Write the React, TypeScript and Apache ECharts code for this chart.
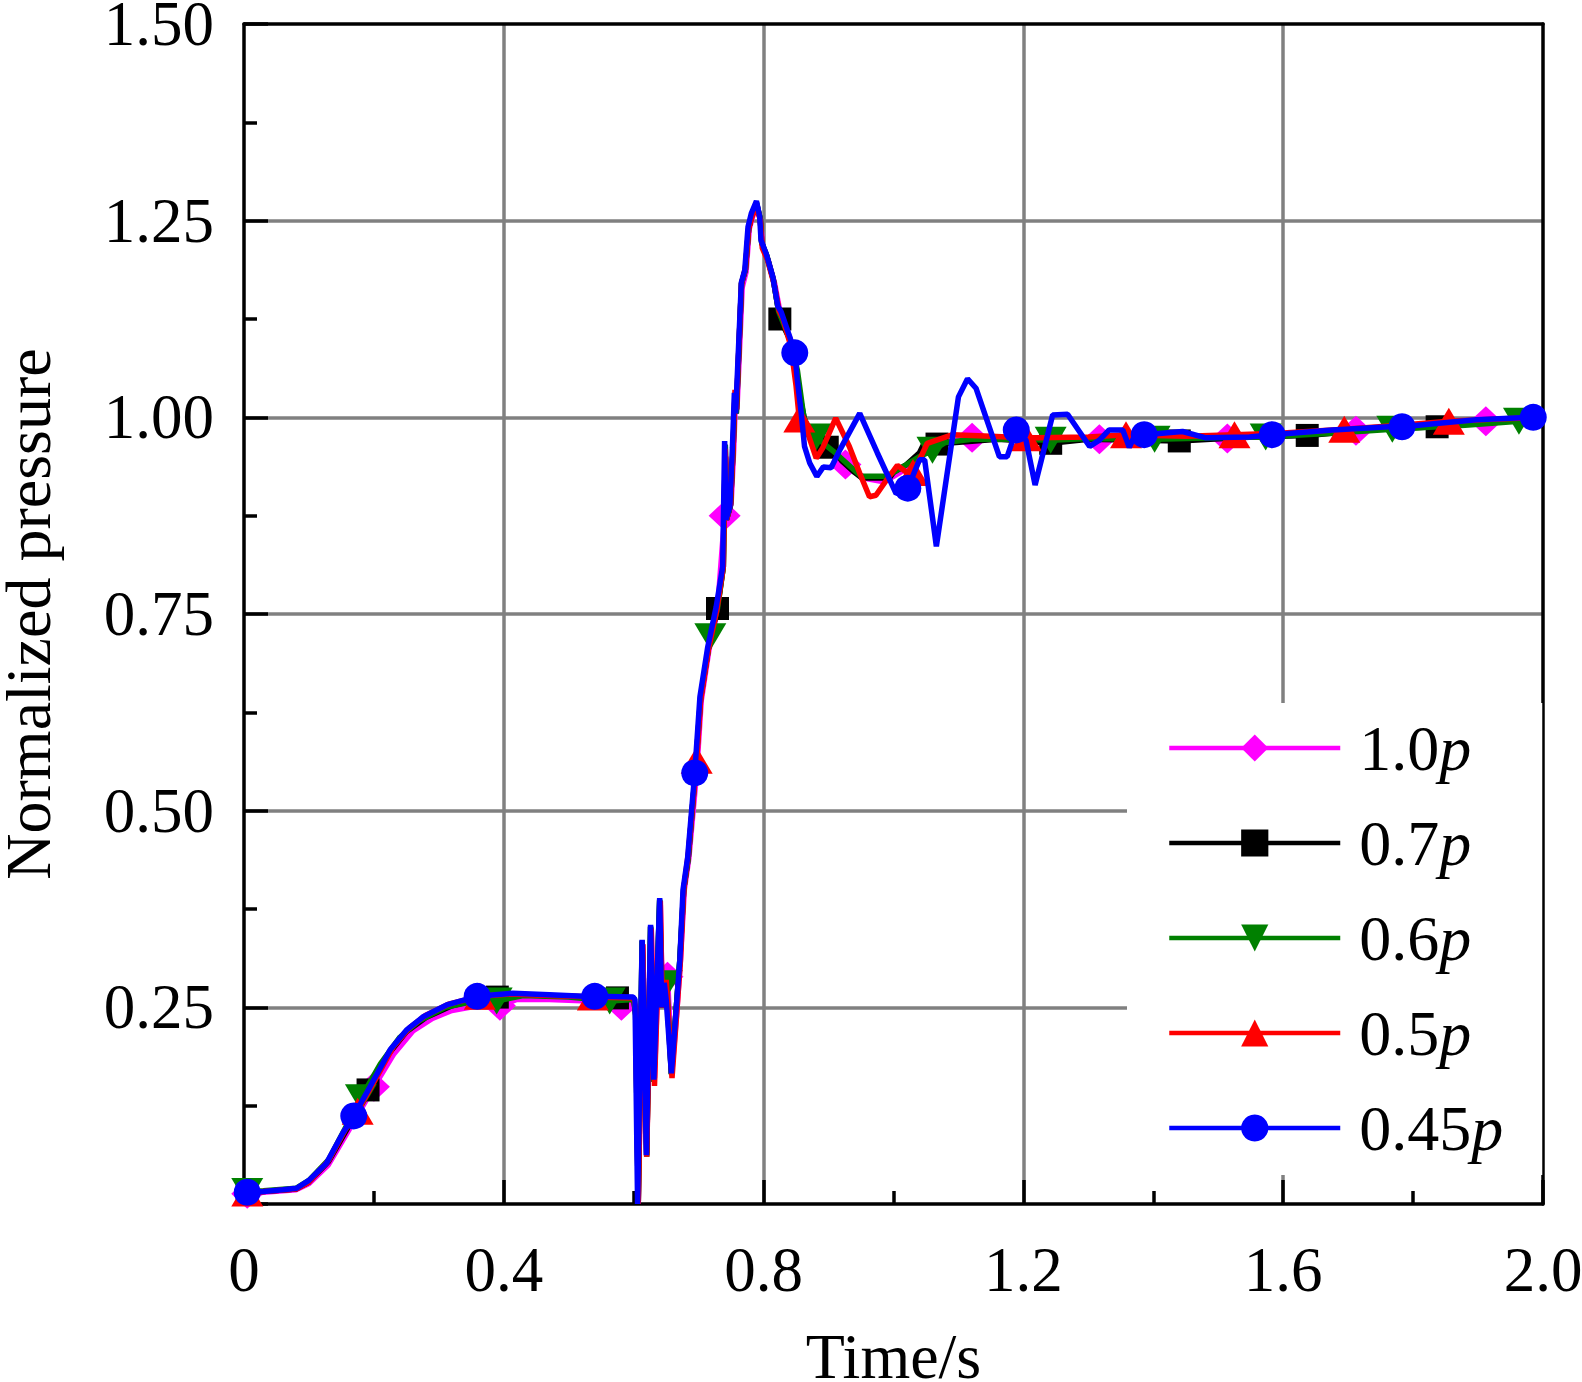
import React, { useEffect, useRef } from "react";
import * as echarts from "echarts";

const xTickLabels = ["0", "0.4", "0.8", "1.2", "1.6", "2.0"];
const yTickLabels = ["", "0.25", "0.50", "0.75", "1.00", "1.25", "1.50"];
const seriesNames = ["1.0p", "0.7p", "0.6p", "0.5p", "0.45p"];
const seriesColors = ["#FF00FF", "#000000", "#008000", "#FF0000", "#0000FF"];

// 1.0p (magenta, diamonds)
const line10: number[][] = [
  [0, 0.013], [0.03, 0.015], [0.08, 0.018], [0.1, 0.026], [0.13, 0.05], [0.16, 0.092], [0.2, 0.149], [0.23, 0.19],
  [0.26, 0.22], [0.29, 0.236], [0.32, 0.246], [0.36, 0.252], [0.394, 0.252], [0.42, 0.26], [0.47, 0.26], [0.53, 0.258],
  [0.581, 0.252], [0.6, 0.255], [0.604, 0.24], [0.607, 0.0], [0.614, 0.33], [0.62, 0.065], [0.627, 0.35], [0.632, 0.16],
  [0.641, 0.38], [0.644, 0.26], [0.652, 0.289], [0.659, 0.17], [0.666, 0.24], [0.672, 0.31], [0.678, 0.4], [0.685, 0.44],
  [0.697, 0.55], [0.704, 0.64], [0.716, 0.705], [0.729, 0.755], [0.74, 0.875], [0.742, 0.95], [0.745, 0.88], [0.75, 0.89],
  [0.754, 0.96], [0.757, 1.03], [0.759, 1.01], [0.767, 1.165], [0.773, 1.185], [0.778, 1.24], [0.783, 1.255], [0.79, 1.27],
  [0.795, 1.25], [0.799, 1.215], [0.807, 1.2], [0.817, 1.17], [0.825, 1.135], [0.832, 1.12], [0.845, 1.09], [0.86, 1.0],
  [0.875, 0.97], [0.89, 0.962], [0.905, 0.955], [0.926, 0.94], [0.945, 0.928], [0.96, 0.922], [0.985, 0.918], [1.0, 0.925],
  [1.03, 0.94], [1.05, 0.96], [1.08, 0.968], [1.121, 0.974], [1.2, 0.974], [1.317, 0.972], [1.4, 0.973], [1.514, 0.973],
  [1.6, 0.977], [1.712, 0.983], [1.8, 0.988], [1.912, 0.995], [2.0, 0.998],
];
const marks10: number[][] = [
  [0.005, 0.013], [0.2, 0.149], [0.394, 0.252], [0.581, 0.252], [0.652, 0.289], [0.74, 0.875], [0.926, 0.94],
  [1.121, 0.974], [1.317, 0.972], [1.514, 0.973], [1.712, 0.983], [1.912, 0.995],
];

// 0.7p (black, squares)
const line07: number[][] = [
  [0, 0.015], [0.03, 0.016], [0.08, 0.019], [0.1, 0.028], [0.13, 0.054], [0.16, 0.097], [0.191, 0.145], [0.22, 0.188],
  [0.25, 0.219], [0.28, 0.237], [0.32, 0.252], [0.36, 0.26], [0.39, 0.263], [0.43, 0.266], [0.5, 0.264], [0.575, 0.262],
  [0.6, 0.262], [0.603, 0.24], [0.607, 0.0], [0.613, 0.335], [0.62, 0.062], [0.626, 0.353], [0.631, 0.156], [0.64, 0.386],
  [0.643, 0.25], [0.65, 0.28], [0.658, 0.165], [0.665, 0.243], [0.671, 0.31], [0.677, 0.4], [0.684, 0.44], [0.695, 0.55],
  [0.703, 0.643], [0.715, 0.706], [0.729, 0.757], [0.738, 0.81], [0.741, 0.965], [0.743, 0.87], [0.749, 0.888], [0.753, 0.96],
  [0.756, 1.03], [0.758, 1.005], [0.766, 1.17], [0.772, 1.188], [0.777, 1.24], [0.782, 1.257], [0.789, 1.272], [0.795, 1.252],
  [0.797, 1.222], [0.805, 1.205], [0.815, 1.175], [0.825, 1.125], [0.84, 1.1], [0.855, 1.03], [0.865, 0.99], [0.877, 0.967],
  [0.898, 0.962], [0.906, 0.962], [0.92, 0.945], [0.94, 0.93], [0.951, 0.923], [0.994, 0.923], [1.0, 0.93], [1.02, 0.94],
  [1.04, 0.955], [1.05, 0.972], [1.16, 0.972], [1.2, 0.97], [1.242, 0.967], [1.3, 0.972], [1.44, 0.97], [1.55, 0.975],
  [1.637, 0.977], [1.75, 0.985], [1.837, 0.988], [1.92, 0.995], [2.0, 0.998],
];
const marks07: number[][] = [
  [0.005, 0.015], [0.191, 0.145], [0.39, 0.263], [0.575, 0.262], [0.729, 0.757], [0.825, 1.125], [0.898, 0.962],
  [1.067, 0.966], [1.242, 0.967], [1.44, 0.97], [1.637, 0.977], [1.837, 0.988],
];

// 0.6p (green, down triangles)
const line06: number[][] = [
  [0, 0.016], [0.03, 0.017], [0.08, 0.02], [0.1, 0.03], [0.13, 0.056], [0.155, 0.095], [0.18, 0.135], [0.21, 0.178],
  [0.24, 0.212], [0.27, 0.233], [0.31, 0.25], [0.35, 0.257], [0.389, 0.258], [0.43, 0.265], [0.5, 0.263], [0.563, 0.258],
  [0.6, 0.26], [0.603, 0.24], [0.607, 0.0], [0.613, 0.334], [0.62, 0.06], [0.626, 0.352], [0.631, 0.155], [0.64, 0.387],
  [0.644, 0.26], [0.651, 0.28], [0.658, 0.165], [0.665, 0.243], [0.671, 0.31], [0.677, 0.4], [0.684, 0.44], [0.695, 0.55],
  [0.703, 0.643], [0.718, 0.721], [0.729, 0.757], [0.738, 0.81], [0.741, 0.965], [0.743, 0.87], [0.749, 0.888], [0.753, 0.96],
  [0.756, 1.03], [0.758, 1.005], [0.766, 1.17], [0.772, 1.188], [0.777, 1.24], [0.782, 1.257], [0.789, 1.273], [0.795, 1.252],
  [0.797, 1.222], [0.805, 1.205], [0.815, 1.175], [0.823, 1.135], [0.84, 1.1], [0.852, 1.06], [0.862, 1.0], [0.872, 0.98],
  [0.881, 0.975], [0.895, 0.965], [0.91, 0.955], [0.93, 0.94], [0.95, 0.925], [0.99, 0.925], [1.0, 0.93], [1.02, 0.94],
  [1.04, 0.95], [1.06, 0.958], [1.08, 0.968], [1.12, 0.972], [1.2, 0.972], [1.242, 0.971], [1.3, 0.973], [1.402, 0.972],
  [1.5, 0.974], [1.573, 0.975], [1.68, 0.98], [1.768, 0.985], [1.88, 0.99], [1.963, 0.995], [2.0, 0.998],
];
const marks06: number[][] = [
  [0.005, 0.016], [0.18, 0.135], [0.389, 0.258], [0.563, 0.258], [0.651, 0.28], [0.718, 0.721], [0.881, 0.975],
  [1.06, 0.958], [1.242, 0.971], [1.402, 0.972], [1.573, 0.975], [1.768, 0.985], [1.963, 0.995],
];

// 0.5p (red, triangles)
const line05: number[][] = [
  [0, 0.014], [0.03, 0.016], [0.08, 0.019], [0.1, 0.028], [0.13, 0.055], [0.155, 0.093], [0.175, 0.118], [0.2, 0.155],
  [0.23, 0.2], [0.255, 0.224], [0.28, 0.24], [0.315, 0.254], [0.363, 0.264], [0.41, 0.267], [0.47, 0.265], [0.537, 0.263],
  [0.6, 0.262], [0.603, 0.25], [0.607, 0.0], [0.614, 0.33], [0.62, 0.06], [0.627, 0.35], [0.632, 0.15], [0.641, 0.385],
  [0.644, 0.25], [0.65, 0.285], [0.659, 0.16], [0.666, 0.24], [0.672, 0.31], [0.677, 0.4], [0.684, 0.445], [0.697, 0.564],
  [0.703, 0.64], [0.715, 0.705], [0.728, 0.755], [0.738, 0.81], [0.741, 0.96], [0.743, 0.87], [0.749, 0.89], [0.753, 0.96],
  [0.756, 1.035], [0.758, 1.01], [0.766, 1.17], [0.772, 1.19], [0.777, 1.24], [0.782, 1.255], [0.789, 1.27], [0.795, 1.25],
  [0.798, 1.215], [0.806, 1.2], [0.816, 1.17], [0.824, 1.135], [0.83, 1.125], [0.842, 1.09], [0.85, 1.04], [0.855, 0.998],
  [0.863, 0.992], [0.881, 0.948], [0.891, 0.961], [0.911, 0.999], [0.932, 0.963], [0.948, 0.929], [0.963, 0.899],
  [0.973, 0.901], [0.989, 0.92], [1.006, 0.939], [1.022, 0.929], [1.03, 0.93], [1.04, 0.946], [1.052, 0.967],
  [1.091, 0.978], [1.15, 0.976], [1.204, 0.974], [1.22, 0.974], [1.3, 0.975], [1.358, 0.978], [1.45, 0.976],
  [1.525, 0.978], [1.6, 0.98], [1.694, 0.985], [1.78, 0.99], [1.855, 0.995], [1.93, 0.998], [2.0, 1.0],
];
const marks05: number[][] = [
  [0.005, 0.014], [0.175, 0.118], [0.363, 0.264], [0.537, 0.263], [0.697, 0.564], [0.855, 0.998], [1.03, 0.93],
  [1.204, 0.974], [1.358, 0.978], [1.525, 0.978], [1.694, 0.985], [1.855, 0.995],
];

// 0.45p (blue, circles)
const line045: number[][] = [
  [0, 0.015], [0.01, 0.015], [0.03, 0.016], [0.06, 0.018], [0.081, 0.02], [0.1, 0.03], [0.127, 0.052], [0.152, 0.09],
  [0.169, 0.112], [0.194, 0.149], [0.225, 0.196], [0.25, 0.221], [0.276, 0.238], [0.312, 0.253], [0.359, 0.264],
  [0.414, 0.268], [0.47, 0.266], [0.522, 0.264], [0.54, 0.264], [0.599, 0.263], [0.602, 0.26], [0.606, 0.0],
  [0.613, 0.336], [0.6195, 0.062], [0.626, 0.355], [0.631, 0.158], [0.64, 0.389], [0.643, 0.25], [0.647, 0.281],
  [0.65, 0.26], [0.658, 0.166], [0.665, 0.243], [0.671, 0.31], [0.676, 0.4], [0.683, 0.44], [0.694, 0.548],
  [0.702, 0.645], [0.714, 0.708], [0.727, 0.759], [0.737, 0.81], [0.74, 0.97], [0.742, 0.87], [0.748, 0.886],
  [0.752, 0.962], [0.755, 1.031], [0.757, 1.005], [0.7657, 1.171], [0.771, 1.187], [0.776, 1.242], [0.781, 1.259],
  [0.789, 1.275], [0.794, 1.255], [0.796, 1.225], [0.804, 1.208], [0.814, 1.179], [0.822, 1.141], [0.827, 1.134],
  [0.84, 1.103], [0.848, 1.082], [0.852, 1.047], [0.858, 1.005], [0.863, 0.963], [0.871, 0.942], [0.882, 0.925],
  [0.892, 0.937], [0.904, 0.936], [0.917, 0.958], [0.948, 1.005], [0.975, 0.955], [1.004, 0.903], [1.022, 0.91],
  [1.04, 0.946], [1.048, 0.946], [1.066, 0.836], [1.1, 1.026], [1.114, 1.049], [1.127, 1.037], [1.163, 0.95],
  [1.175, 0.95], [1.189, 0.984], [1.204, 0.971], [1.218, 0.914], [1.245, 1.003], [1.268, 1.004], [1.302, 0.963],
  [1.317, 0.971], [1.332, 0.984], [1.353, 0.984], [1.363, 0.962], [1.371, 0.976], [1.386, 0.978], [1.445, 0.982],
  [1.481, 0.974], [1.548, 0.975], [1.583, 0.978], [1.676, 0.984], [1.763, 0.988], [1.783, 0.988], [1.897, 0.997],
  [1.98, 1.0], [2.0, 1.0],
];
const marks045: number[][] = [
  [0.005, 0.015], [0.169, 0.112], [0.359, 0.264], [0.54, 0.264], [0.694, 0.548], [0.848, 1.082], [1.022, 0.91],
  [1.189, 0.984], [1.386, 0.978], [1.583, 0.978], [1.783, 0.988], [1.985, 1.0],
];

const seriesLines = [line10, line07, line06, line05, line045];
const seriesMarks = [marks10, marks07, marks06, marks05, marks045];
const seriesSymbols = ["diamond", "rect", "path://M0,0L10,0L5,8.66Z", "triangle", "circle"];
const seriesSymbolSizes: (number | number[])[] = [[32, 30], 23, [32, 27], [32, 27], 27];

const fontFamily = "'Liberation Serif', 'Times New Roman', Times, serif";

function buildData(line: number[][], marks: number[][]) {
  const pts: any[] = line.map((p) => ({ value: p, symbol: "none" }));
  marks.forEach((m) => pts.push({ value: m }));
  pts.sort((a, b) => a.value[0] - b.value[0]);
  return pts;
}

export default function App() {
  const ref = useRef<HTMLDivElement>(null);
  useEffect(() => {
    if (!ref.current) return;
    const chart = echarts.init(ref.current, undefined, { renderer: "svg" });
    const black = { color: "#000", width: 3.5 };
    const option: any = {
      animation: false,
      backgroundColor: "#fff",
      grid: {
        left: 244, top: 24, width: 1299, height: 1180,
        containLabel: false, outerBoundsMode: "none",
      },
      xAxis: [
        {
          type: "value", min: 0, max: 2, interval: 0.4, position: "bottom",
          axisLine: { show: true, onZero: false, lineStyle: black },
          axisTick: { show: true, inside: true, length: 24, lineStyle: black },
          minorTick: { show: true, splitNumber: 2, length: 13, lineStyle: black },
          splitLine: { show: true, showMinLine: false, showMaxLine: false, lineStyle: { color: "#808080", width: 3.5 } },
          axisLabel: {
            margin: 34, fontFamily, fontSize: 63, color: "#000", showMinLabel: true, showMaxLabel: true,
            formatter: (v: number) => xTickLabels[Math.round(v / 0.4)] ?? "",
          },
          name: "Time/s", nameLocation: "middle", nameGap: 120,
          nameTextStyle: { fontFamily, fontSize: 64, color: "#000" },
        },
        {
          type: "value", min: 0, max: 2, position: "top",
          axisLine: { show: true, onZero: false, lineStyle: black },
          axisTick: { show: false }, axisLabel: { show: false }, splitLine: { show: false },
        },
      ],
      yAxis: [
        {
          type: "value", min: 0, max: 1.5, interval: 0.25, position: "left",
          axisLine: { show: true, onZero: false, lineStyle: black },
          axisTick: { show: true, inside: true, length: 24, lineStyle: black },
          minorTick: { show: true, splitNumber: 2, length: 13, lineStyle: black },
          splitLine: { show: true, showMinLine: false, showMaxLine: false, lineStyle: { color: "#808080", width: 3.5 } },
          axisLabel: {
            margin: 30, fontFamily, fontSize: 63, color: "#000", showMinLabel: true, showMaxLabel: true,
            formatter: (v: number) => yTickLabels[Math.round(v / 0.25)] ?? "",
          },
          name: "Normalized pressure", nameLocation: "middle", nameGap: 184,
          nameTextStyle: { fontFamily, fontSize: 64, color: "#000" },
        },
        {
          type: "value", min: 0, max: 1.5, position: "right",
          axisLine: { show: true, onZero: false, lineStyle: black },
          axisTick: { show: false }, axisLabel: { show: false }, splitLine: { show: false },
        },
      ],
      legend: {
        orient: "vertical", left: 1127, top: 703, padding: [13, 39, 15, 40], backgroundColor: "#fff",
        itemWidth: 171, itemHeight: 34, itemGap: 31, selectedMode: false,
        data: seriesNames,
        lineStyle: { width: 4.5 },
        formatter: (name: string) => `{n|${name.slice(0, -1)}}{i|p}`,
        textStyle: {
          color: "#000", fontFamily, fontSize: 64, lineHeight: 64,
          rich: {
            n: { fontFamily, fontSize: 64, lineHeight: 64, color: "#000", padding: [0, 0, 0, 14] },
            i: { fontFamily, fontSize: 64, lineHeight: 64, color: "#000", fontStyle: "italic" },
          },
        },
      },
      series: seriesNames.map((name, i) => ({
        type: "line",
        name,
        xAxisIndex: 0,
        yAxisIndex: 0,
        data: buildData(seriesLines[i], seriesMarks[i]),
        symbol: seriesSymbols[i],
        symbolSize: seriesSymbolSizes[i],
        showSymbol: true,
        showAllSymbol: true,
        clip: true,
        z: 2 + i,
        lineStyle: { color: seriesColors[i], width: 5.5 },
        itemStyle: { color: seriesColors[i], borderWidth: 0 },
        emphasis: { disabled: true },
      })),
    };
    chart.setOption(option);
    return () => chart.dispose();
  }, []);
  return (
    <div
      ref={ref}
      style={{ position: "absolute", left: 0, top: 0, width: 1582, height: 1382, background: "#fff" }}
    />
  );
}
